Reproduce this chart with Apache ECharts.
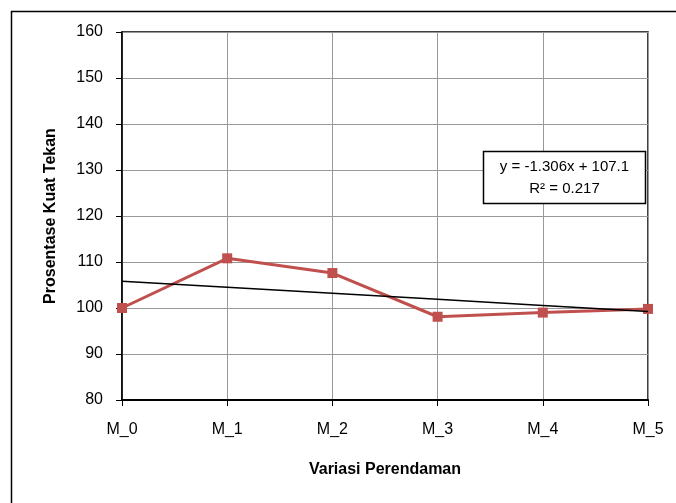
<!DOCTYPE html>
<html>
<head>
<meta charset="utf-8">
<script src="https://cdn.jsdelivr.net/npm/echarts@6/dist/echarts.min.js"></script>
<style>
  html, body { margin: 0; padding: 0; background: #fff; }
  #chart { width: 676px; height: 503px; }
</style>
</head>
<body>
<div id="chart"></div>
<script>
var categories = ['M_0', 'M_1', 'M_2', 'M_3', 'M_4', 'M_5'];
var kuatTekan = [100, 110.8, 107.6, 98.1, 99.0, 99.8];
// linear trendline shown in the box: y = -1.306x + 107.1 (x = 1..n)
var trendSlope = -1.306;
var trendIntercept = 107.1;
var trendLabel = ['y = -1.306x + 107.1', 'R\u00b2 = 0.217'];

var trend = categories.map(function (c, i) {
  return +(trendSlope * (i + 1) + trendIntercept).toFixed(3);
});

var chartDom = document.getElementById('chart');
var myChart = echarts.init(chartDom);
var font = 'Liberation Sans, Arial, sans-serif';

var option = {
  animation: false,
  textStyle: { fontFamily: font },
  grid: {
    left: 122, right: 28, top: 32, bottom: 103,
    show: true, borderColor: '#000', borderWidth: 1.5
  },
  xAxis: {
    type: 'category',
    data: categories,
    boundaryGap: false,
    name: 'Variasi Perendaman',
    nameLocation: 'middle',
    nameGap: 62,
    nameTextStyle: { fontSize: 16, fontWeight: 'bold', color: '#000' },
    axisLine: { lineStyle: { color: '#000', width: 2 } },
    axisTick: { length: 6, lineStyle: { color: '#000' } },
    axisLabel: { fontSize: 16, color: '#000', margin: 22 },
    splitLine: { show: true, lineStyle: { color: '#999', width: 1 } }
  },
  yAxis: {
    type: 'value',
    min: 80, max: 160, interval: 10,
    name: 'Prosentase Kuat Tekan',
    nameLocation: 'middle',
    nameGap: 63,
    nameTextStyle: { fontSize: 16, fontWeight: 'bold', color: '#000' },
    axisLine: { show: true, lineStyle: { color: '#000', width: 1.5 } },
    axisTick: { show: true, length: 6, lineStyle: { color: '#000' } },
    axisLabel: { fontSize: 16, color: '#000', margin: 19 },
    splitLine: { lineStyle: { color: '#999', width: 1 } }
  },
  series: [
    {
      type: 'line',
      data: kuatTekan,
      symbol: 'rect',
      symbolSize: 10,
      lineStyle: { color: '#C0504D', width: 3 },
      itemStyle: { color: '#C0504D' },
      z: 3
    },
    {
      type: 'line',
      data: trend,
      symbol: 'none',
      lineStyle: { color: '#000', width: 1.5 },
      z: 4
    }
  ],
  graphic: [
    {
      type: 'rect',
      shape: { x: 11.5, y: 11.5, width: 700, height: 520 },
      style: { fill: 'none', stroke: '#000', lineWidth: 1.5 },
      silent: true
    },
    {
      type: 'rect',
      shape: { x: 483.5, y: 151.5, width: 162, height: 52 },
      style: { fill: '#fff', stroke: '#000', lineWidth: 1.5 },
      z: 10
    },
    {
      type: 'text',
      x: 564.5, y: 167,
      style: {
        text: trendLabel[0], fontSize: 15, fontFamily: font, fill: '#000',
        align: 'center', verticalAlign: 'middle'
      },
      z: 11
    },
    {
      type: 'text',
      x: 564.5, y: 189,
      style: {
        text: trendLabel[1], fontSize: 15, fontFamily: font, fill: '#000',
        align: 'center', verticalAlign: 'middle'
      },
      z: 11
    }
  ]
};

myChart.setOption(option);
</script>
</body>
</html>
